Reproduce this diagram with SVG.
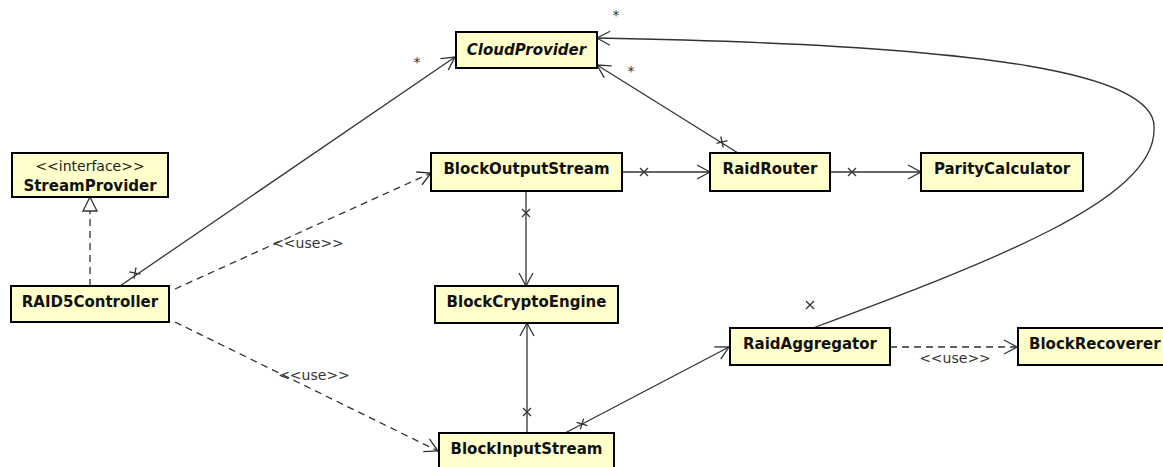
<svg xmlns="http://www.w3.org/2000/svg" xmlns:xlink="http://www.w3.org/1999/xlink" width="1163" height="467" viewBox="0 0 1163 467">
  <style>
    .box { fill: #ffffcc; stroke: #000; stroke-width: 2; }
    .name { font-family: "DejaVu Sans", sans-serif; font-weight: bold; font-size: 15px; fill: #111; text-anchor: middle; }
    .left { text-anchor: start; }
    .abstract { font-style: italic; }
    .stereo { font-family: "DejaVu Sans", sans-serif; font-size: 14px; fill: #222; text-anchor: middle; }
    .lbl { font-family: "DejaVu Sans", sans-serif; font-size: 14px; fill: #333; text-anchor: middle; }
    .edge { fill: none; stroke: #333; stroke-width: 1.3; }
    .dash { stroke-dasharray: 7 5; }
    .mark { fill: none; stroke: #333; stroke-width: 1.3; }
  </style>
  <defs>
    <marker id="open" markerUnits="userSpaceOnUse" markerWidth="20" markerHeight="20" viewBox="-15 -10 20 20" refX="0" refY="0" orient="auto">
      <path d="M-13,-7 L0,0 L-13,7" fill="none" stroke="#333" stroke-width="1.3"/>
    </marker>
    <path id="x" d="M-4,-4 L4,4 M-4,4 L4,-4"/>
  </defs>

  <!-- connectors -->
  <g id="connectors">
    <!-- RAID5Controller realizes StreamProvider -->
    <path class="edge dash" d="M90,286 L90,211"/>
    <path d="M90,197 L97,211 L83,211 Z" fill="#fff" stroke="#333" stroke-width="1.3"/>

    <!-- RAID5Controller -> CloudProvider -->
    <path class="edge" d="M120,286 L455,57" marker-end="url(#open)"/>
    <use xlink:href="#x" class="mark" transform="translate(135,273) rotate(-34.4)"/>
    <text class="lbl" x="417" y="67">*</text>

    <!-- RAID5Controller uses BlockOutputStream -->
    <path class="edge dash" d="M175,289 L431,173" marker-end="url(#open)"/>
    <text class="lbl" x="308" y="248">&lt;&lt;use&gt;&gt;</text>

    <!-- RAID5Controller uses BlockInputStream -->
    <path class="edge dash" d="M175,322 L438,451" marker-end="url(#open)"/>
    <text class="lbl" x="314" y="380">&lt;&lt;use&gt;&gt;</text>

    <!-- BlockOutputStream -> RaidRouter -->
    <path class="edge" d="M622,172 L710,172" marker-end="url(#open)"/>
    <use xlink:href="#x" class="mark" transform="translate(644,172)"/>

    <!-- RaidRouter -> ParityCalculator -->
    <path class="edge" d="M830,172 L921,172" marker-end="url(#open)"/>
    <use xlink:href="#x" class="mark" transform="translate(852,172)"/>

    <!-- RaidRouter -> CloudProvider -->
    <path class="edge" d="M738,153 L597,65" marker-end="url(#open)"/>
    <use xlink:href="#x" class="mark" transform="translate(722,142) rotate(32)"/>
    <text class="lbl" x="631" y="76">*</text>

    <!-- BlockOutputStream -> BlockCryptoEngine -->
    <path class="edge" d="M526,191 L526,286" marker-end="url(#open)"/>
    <use xlink:href="#x" class="mark" transform="translate(526,213)"/>

    <!-- BlockInputStream -> BlockCryptoEngine -->
    <path class="edge" d="M527,433 L527,323" marker-end="url(#open)"/>
    <use xlink:href="#x" class="mark" transform="translate(527,412)"/>

    <!-- BlockInputStream -> RaidAggregator -->
    <path class="edge" d="M565,433 L729,347" marker-end="url(#open)"/>
    <use xlink:href="#x" class="mark" transform="translate(582,424) rotate(-27.8)"/>

    <!-- RaidAggregator -> CloudProvider, routed round the right side -->
    <path class="edge" d="M813,328 C990,262 1154,200 1154,130 C1160,75 1000,45 597,38" marker-end="url(#open)"/>
    <use xlink:href="#x" class="mark" transform="translate(810,305)"/>
    <text class="lbl" x="616" y="20">*</text>

    <!-- RaidAggregator uses BlockRecoverer -->
    <path class="edge dash" d="M890,347 L1017,347" marker-end="url(#open)"/>
    <text class="lbl" x="955" y="363">&lt;&lt;use&gt;&gt;</text>
  </g>

  <!-- classes -->
  <g id="CloudProvider">
    <rect class="box" x="456" y="32" width="141" height="36"/>
    <text class="name abstract" x="526.5" y="55">CloudProvider</text>
  </g>
  <g id="StreamProvider">
    <rect class="box" x="12" y="153" width="156" height="44"/>
    <text class="stereo" x="90" y="171">&lt;&lt;interface&gt;&gt;</text>
    <text class="name" x="90" y="191">StreamProvider</text>
  </g>
  <g id="RAID5Controller">
    <rect class="box" x="11" y="286" width="158" height="36"/>
    <text class="name" x="90" y="307">RAID5Controller</text>
  </g>
  <g id="BlockOutputStream">
    <rect class="box" x="431" y="153" width="191" height="38"/>
    <text class="name" x="526.5" y="174">BlockOutputStream</text>
  </g>
  <g id="BlockCryptoEngine">
    <rect class="box" x="435" y="286" width="183" height="37"/>
    <text class="name" x="526.5" y="307">BlockCryptoEngine</text>
  </g>
  <g id="BlockInputStream">
    <rect class="box" x="439" y="433" width="175" height="40"/>
    <text class="name" x="526.5" y="454">BlockInputStream</text>
  </g>
  <g id="RaidRouter">
    <rect class="box" x="710" y="153" width="120" height="38"/>
    <text class="name" x="770" y="174">RaidRouter</text>
  </g>
  <g id="ParityCalculator">
    <rect class="box" x="921" y="153" width="162" height="38"/>
    <text class="name" x="1002" y="174">ParityCalculator</text>
  </g>
  <g id="RaidAggregator">
    <rect class="box" x="730" y="328" width="160" height="37"/>
    <text class="name" x="810" y="349">RaidAggregator</text>
  </g>
  <g id="BlockRecoverer">
    <rect class="box" x="1018" y="328" width="160" height="37"/>
    <text class="name left" x="1029" y="349">BlockRecoverer</text>
  </g>
</svg>
